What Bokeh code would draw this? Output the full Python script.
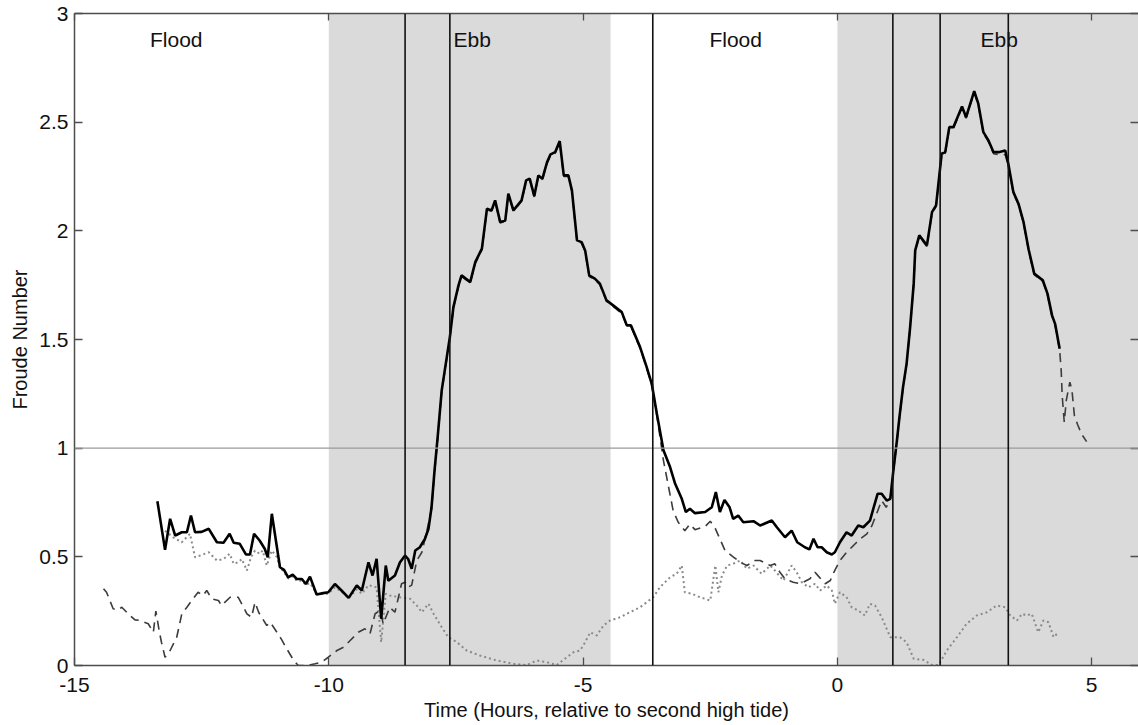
from bokeh.plotting import figure
from bokeh.models import (Range1d, LinearAxis, FixedTicker, BoxAnnotation, Span,
                          Label, NumeralTickFormatter, CustomJSTickFormatter)
from bokeh.embed import file_html
from bokeh.resources import INLINE

# ---- data -------------------------------------------------------------
# total Froude number (solid)
total_t = [-13.37, -13.22, -13.12, -13.02, -12.89, -12.79, -12.71, -12.63, -12.50, -12.36,
           -12.20, -12.07, -11.95, -11.87, -11.75, -11.63, -11.55, -11.47, -11.36, -11.26,
           -11.20, -11.12, -11.02, -10.96, -10.88, -10.80, -10.71, -10.63, -10.53, -10.45,
           -10.37, -10.24, -10.11, -10.01, -9.88, -9.75, -9.61, -9.45, -9.35, -9.22,
           -9.14, -9.06, -8.97, -8.88, -8.83, -8.70, -8.60, -8.50, -8.44, -8.37,
           -8.30, -8.21, -8.11, -8.04, -7.98, -7.92, -7.86, -7.78, -7.68, -7.62,
           -7.55, -7.45, -7.39, -7.22, -7.12, -6.99, -6.89, -6.80, -6.73, -6.63,
           -6.53, -6.47, -6.37, -6.21, -6.12, -6.05, -5.96, -5.88, -5.80, -5.71,
           -5.64, -5.55, -5.46, -5.38, -5.29, -5.22, -5.12, -5.03, -4.96, -4.88,
           -4.77, -4.67, -4.54, -4.41, -4.24, -4.14, -4.06, -3.88, -3.75, -3.65,
           -3.55, -3.42, -3.29, -3.19, -3.06, -2.98, -2.90, -2.80, -2.60, -2.47,
           -2.39, -2.31, -2.22, -2.12, -2.05, -1.95, -1.85, -1.65, -1.52, -1.29,
           -1.19, -1.03, -0.90, -0.79, -0.64, -0.55, -0.47, -0.39, -0.31, -0.21,
           -0.11, -0.05, 0.05, 0.18, 0.28, 0.41, 0.51, 0.64, 0.79, 0.87,
           0.97, 1.04, 1.10, 1.17, 1.22, 1.29, 1.36, 1.43, 1.50, 1.53,
           1.61, 1.76, 1.86, 1.94, 2.05, 2.12, 2.20, 2.28, 2.45, 2.53,
           2.69, 2.77, 2.87, 2.97, 3.07, 3.17, 3.30, 3.36, 3.46, 3.56,
           3.66, 3.76, 3.87, 4.04, 4.13, 4.22, 4.28, 4.37]
total_fr = [0.756, 0.532, 0.675, 0.598, 0.613, 0.613, 0.690, 0.613, 0.615, 0.629,
            0.567, 0.565, 0.606, 0.565, 0.560, 0.511, 0.511, 0.606, 0.575, 0.537,
            0.498, 0.698, 0.544, 0.452, 0.440, 0.406, 0.418, 0.398, 0.398, 0.375,
            0.409, 0.327, 0.333, 0.337, 0.375, 0.345, 0.311, 0.368, 0.345, 0.475,
            0.414, 0.491, 0.215, 0.460, 0.390, 0.414, 0.475, 0.506, 0.490, 0.445,
            0.529, 0.544, 0.583, 0.629, 0.728, 0.900, 1.050, 1.266, 1.419, 1.511,
            1.649, 1.749, 1.795, 1.764, 1.856, 1.918, 2.102, 2.094, 2.140, 2.040,
            2.048, 2.171, 2.094, 2.140, 2.232, 2.240, 2.160, 2.255, 2.240, 2.315,
            2.352, 2.362, 2.413, 2.255, 2.255, 2.186, 1.956, 1.948, 1.910, 1.795,
            1.780, 1.757, 1.680, 1.657, 1.626, 1.565, 1.565, 1.465, 1.373, 1.296,
            1.158, 0.990, 0.913, 0.836, 0.767, 0.706, 0.721, 0.701, 0.706, 0.728,
            0.798, 0.706, 0.762, 0.728, 0.675, 0.690, 0.659, 0.664, 0.644, 0.667,
            0.636, 0.590, 0.621, 0.567, 0.544, 0.534, 0.583, 0.544, 0.544, 0.521,
            0.511, 0.521, 0.567, 0.613, 0.598, 0.644, 0.636, 0.667, 0.790, 0.790,
            0.759, 0.767, 0.897, 1.035, 1.143, 1.281, 1.388, 1.557, 1.757, 1.910,
            1.979, 1.933, 2.086, 2.117, 2.355, 2.362, 2.477, 2.477, 2.572, 2.523,
            2.643, 2.585, 2.454, 2.416, 2.362, 2.362, 2.370, 2.309, 2.178, 2.125,
            2.040, 1.914, 1.803, 1.772, 1.711, 1.611, 1.572, 1.457]

# along-channel component (dashed)
along_t = [-14.43, -14.37, -14.24, -14.14, -14.07, -13.91, -13.81, -13.71, -13.55, -13.45,
           -13.40, -13.33, -13.29, -13.22, -13.12, -12.99, -12.89, -12.79, -12.67, -12.57,
           -12.47, -12.40, -12.30, -12.17, -12.11, -11.94, -11.78, -11.61, -11.52, -11.45,
           -11.38, -11.22, -11.15, -11.02, -10.93, -10.86, -10.69, -10.60, -10.43, -10.27,
           -10.14, -10.01, -9.84, -9.71, -9.58, -9.42, -9.29, -9.19, -9.09, -8.99,
           -8.93, -8.80, -8.70, -8.63, -8.57, -8.50, -8.44, -8.37, -8.27, -8.17,
           -8.07, -7.98, -7.92, -7.86, -7.78, -7.68, -7.62, -7.55, -7.45, -7.39,
           -7.22, -7.12, -6.99, -6.89, -6.80, -6.73, -6.63, -6.53, -6.47, -6.37,
           -6.21, -6.12, -6.05, -5.96, -5.88, -5.80, -5.71, -5.64, -5.55, -5.46,
           -5.38, -5.29, -5.22, -5.12, -5.03, -4.96, -4.88, -4.77, -4.67, -4.54,
           -4.41, -4.24, -4.14, -4.06, -3.88, -3.75, -3.65, -3.55, -3.42, -3.23,
           -3.13, -3.00, -2.90, -2.80, -2.60, -2.50, -2.40, -2.21, -2.05, -1.91,
           -1.78, -1.62, -1.52, -1.32, -1.23, -1.13, -1.03, -0.87, -0.73, -0.54,
           -0.44, -0.37, -0.24, -0.14, -0.07, 0.05, 0.18, 0.35, 0.45, 0.58,
           0.68, 0.77, 0.87, 0.96, 1.04, 1.10, 1.17, 1.22, 1.29, 1.36,
           1.43, 1.50, 1.53, 1.61, 1.76, 1.86, 1.94, 2.05, 2.12, 2.20,
           2.28, 2.45, 2.53, 2.69, 2.77, 2.87, 2.97, 3.07, 3.17, 3.30,
           3.36, 3.46, 3.56, 3.66, 3.76, 3.87, 4.04, 4.13, 4.22, 4.28,
           4.37, 4.40, 4.42, 4.46, 4.50, 4.57, 4.61, 4.66, 4.72, 4.80,
           4.90]
along_fr = [0.353, 0.337, 0.261, 0.256, 0.268, 0.230, 0.210, 0.207, 0.192, 0.153,
            0.250, 0.153, 0.107, 0.038, 0.069, 0.130, 0.238, 0.268, 0.307, 0.337,
            0.322, 0.345, 0.307, 0.299, 0.276, 0.314, 0.314, 0.238, 0.222, 0.291,
            0.245, 0.184, 0.199, 0.153, 0.120, 0.090, 0.023, 0.000, 0.000, 0.008,
            0.015, 0.038, 0.069, 0.084, 0.115, 0.153, 0.169, 0.146, 0.238, 0.253,
            0.192, 0.268, 0.245, 0.314, 0.376, 0.383, 0.360, 0.370, 0.483, 0.521,
            0.621, 0.720, 0.890, 1.040, 1.260, 1.412, 1.505, 1.643, 1.745, 1.790,
            1.760, 1.850, 1.912, 2.096, 2.090, 2.134, 2.036, 2.044, 2.165, 2.090,
            2.136, 2.226, 2.236, 2.156, 2.250, 2.236, 2.310, 2.346, 2.357, 2.405,
            2.250, 2.250, 2.182, 1.950, 1.944, 1.905, 1.790, 1.775, 1.752, 1.676,
            1.652, 1.620, 1.560, 1.560, 1.460, 1.368, 1.290, 1.150, 0.943, 0.713,
            0.659, 0.620, 0.650, 0.625, 0.640, 0.664, 0.630, 0.529, 0.500, 0.475,
            0.460, 0.483, 0.483, 0.460, 0.468, 0.429, 0.399, 0.383, 0.376, 0.399,
            0.429, 0.410, 0.376, 0.391, 0.429, 0.483, 0.521, 0.560, 0.583, 0.606,
            0.644, 0.698, 0.759, 0.728, 0.767, 0.890, 1.030, 1.138, 1.276, 1.383,
            1.552, 1.752, 1.905, 1.974, 1.928, 2.080, 2.112, 2.350, 2.356, 2.470,
            2.470, 2.566, 2.518, 2.636, 2.578, 2.448, 2.410, 2.355, 2.350, 2.350,
            2.300, 2.172, 2.120, 2.034, 1.908, 1.798, 1.766, 1.705, 1.606, 1.566,
            1.450, 1.357, 1.240, 1.120, 1.220, 1.304, 1.270, 1.150, 1.110, 1.065,
            1.030]

# cross-channel component (dotted)
cross_t = [-13.22, -13.06, -12.89, -12.73, -12.63, -12.53, -12.36, -12.20, -12.07, -11.95,
           -11.87, -11.78, -11.71, -11.61, -11.53, -11.45, -11.36, -11.30, -11.22, -11.12,
           -11.02, -10.96, -10.88, -10.80, -10.71, -10.63, -10.53, -10.45, -10.37, -10.24,
           -10.11, -10.01, -9.88, -9.75, -9.61, -9.45, -9.35, -9.22, -9.06, -8.97,
           -8.88, -8.80, -8.60, -8.40, -8.27, -8.17, -8.04, -7.94, -7.78, -7.65,
           -7.48, -7.29, -7.03, -6.70, -6.37, -6.11, -5.91, -5.71, -5.52, -5.32,
           -5.19, -5.06, -4.96, -4.86, -4.73, -4.60, -4.47, -4.27, -4.08, -3.88,
           -3.75, -3.62, -3.49, -3.29, -3.16, -3.06, -3.00, -2.86, -2.70, -2.50,
           -2.40, -2.34, -2.27, -2.17, -2.05, -1.91, -1.78, -1.65, -1.49, -1.32,
           -1.23, -1.06, -0.90, -0.80, -0.70, -0.57, -0.44, -0.34, -0.21, -0.11,
           -0.05, 0.05, 0.18, 0.28, 0.41, 0.54, 0.64, 0.74, 0.87, 1.04,
           1.23, 1.36, 1.50, 1.69, 1.86, 1.99, 2.15, 2.35, 2.54, 2.74,
           2.94, 3.13, 3.30, 3.40, 3.53, 3.63, 3.72, 3.82, 3.95, 4.05,
           4.15, 4.25, 4.35]
cross_fr = [0.620, 0.590, 0.567, 0.606, 0.498, 0.506, 0.521, 0.483, 0.490, 0.514,
            0.468, 0.475, 0.490, 0.437, 0.498, 0.529, 0.514, 0.529, 0.460, 0.529,
            0.498, 0.452, 0.430, 0.400, 0.410, 0.390, 0.390, 0.370, 0.380, 0.330,
            0.330, 0.330, 0.360, 0.340, 0.310, 0.350, 0.330, 0.370, 0.360, 0.107,
            0.330, 0.322, 0.314, 0.307, 0.276, 0.245, 0.284, 0.238, 0.176, 0.130,
            0.107, 0.069, 0.046, 0.023, 0.008, 0.002, 0.023, 0.015, 0.002, 0.038,
            0.061, 0.069, 0.107, 0.153, 0.138, 0.184, 0.207, 0.222, 0.245, 0.268,
            0.291, 0.314, 0.360, 0.406, 0.422, 0.460, 0.337, 0.330, 0.314, 0.299,
            0.460, 0.337, 0.414, 0.460, 0.468, 0.483, 0.445, 0.460, 0.422, 0.460,
            0.437, 0.391, 0.460, 0.429, 0.383, 0.360, 0.376, 0.345, 0.368, 0.345,
            0.284, 0.337, 0.314, 0.268, 0.253, 0.230, 0.284, 0.276, 0.222, 0.130,
            0.130, 0.107, 0.031, 0.026, 0.002, 0.002, 0.069, 0.130, 0.192, 0.230,
            0.245, 0.276, 0.268, 0.230, 0.207, 0.238, 0.230, 0.238, 0.153, 0.207,
            0.199, 0.130, 0.153]

# ebb periods (shaded) and phase boundaries (vertical lines)
ebb_start = [-10.0, 0.0]
ebb_end = [-4.46, 7.0]
boundaries = [-8.50, -7.62, -3.63, 1.09, 2.02, 3.36]

phase_names = ["Flood", "Ebb", "Flood", "Ebb"]
phase_x = [-13.0, -7.18, -2.0, 3.18]

x_ticks = [-15, -10, -5, 0, 5]
y_ticks = [0, 0.5, 1, 1.5, 2, 2.5, 3]

FONT = "Liberation Sans"
AXIS_COLOR = "#4d4d4d"

# ---- figure -----------------------------------------------------------
p = figure(width=1138, height=725, x_range=Range1d(-15, 5.92), y_range=Range1d(0, 3),
           output_backend="svg", toolbar_location=None,
           min_border_left=74, min_border_right=0, min_border_top=13, min_border_bottom=60)
p.grid.visible = False
p.outline_line_color = None
p.background_fill_color = "white"

for a, b in zip(ebb_start, ebb_end):
    p.add_layout(BoxAnnotation(left=a, right=b, fill_color="#dadada", fill_alpha=1.0,
                               line_color=None, level="underlay"))

p.add_layout(Span(location=1, dimension="width", line_color="#9a9a9a", line_width=1.2))
for b in boundaries:
    p.add_layout(Span(location=b, dimension="height", line_color="#111111", line_width=1.6))

p.line(cross_t, cross_fr, line_color="#8a8a8a", line_width=2.0, line_dash="2 3")
p.line(along_t, along_fr, line_color="#3c3c3c", line_width=1.6, line_dash="9 6")
p.line(total_t, total_fr, line_color="black", line_width=2.6)

for name, x in zip(phase_names, phase_x):
    p.add_layout(Label(x=x, y=2.88, text=name, text_align="center", text_baseline="alphabetic",
                       text_font=FONT, text_font_size="21px", text_color="#111111"))

# bottom / left axes
p.xaxis.ticker = FixedTicker(ticks=x_ticks)
p.yaxis.ticker = FixedTicker(ticks=y_ticks)
p.xaxis.formatter = NumeralTickFormatter(format="0")
p.yaxis.formatter = NumeralTickFormatter(format="0.[0]")
for ax in (p.xaxis[0], p.yaxis[0]):
    ax.major_tick_in = 8
    ax.major_tick_out = 0
    ax.minor_tick_line_color = None
    ax.axis_line_color = AXIS_COLOR
    ax.axis_line_width = 1.5
    ax.major_tick_line_color = AXIS_COLOR
    ax.major_tick_line_width = 1.3
    ax.major_label_text_font = FONT
    ax.major_label_text_font_size = "21px"
    ax.major_label_text_color = "#111111"
    ax.axis_label_text_font = FONT
    ax.axis_label_text_font_size = "20px"
    ax.axis_label_text_font_style = "normal"
    ax.axis_label_text_color = "#111111"
p.xaxis.axis_label = "Time (Hours, relative to second high tide)"
p.yaxis.axis_label = "Froude Number"
p.xaxis.major_label_standoff = 12
p.xaxis.axis_label_standoff = 4
p.yaxis.major_label_standoff = 6
p.yaxis.axis_label_standoff = 5

# top / right axes: tick marks only
blank = CustomJSTickFormatter(code="return '';")
top = LinearAxis(ticker=FixedTicker(ticks=x_ticks), formatter=blank,
                 major_label_standoff=0, major_tick_in=7, major_tick_out=0,
                 minor_tick_line_color=None, axis_line_color=AXIS_COLOR, axis_line_width=1.5,
                 major_tick_line_color=AXIS_COLOR, major_tick_line_width=1.3)
p.add_layout(top, "above")
right = LinearAxis(ticker=FixedTicker(ticks=y_ticks), formatter=blank,
                   major_label_standoff=0, major_tick_in=8, major_tick_out=0,
                   minor_tick_line_color=None, axis_line_color=None,
                   major_tick_line_color=AXIS_COLOR, major_tick_line_width=1.3)
p.add_layout(right, "right")

open("out.html", "w").write(file_html(p, INLINE))
